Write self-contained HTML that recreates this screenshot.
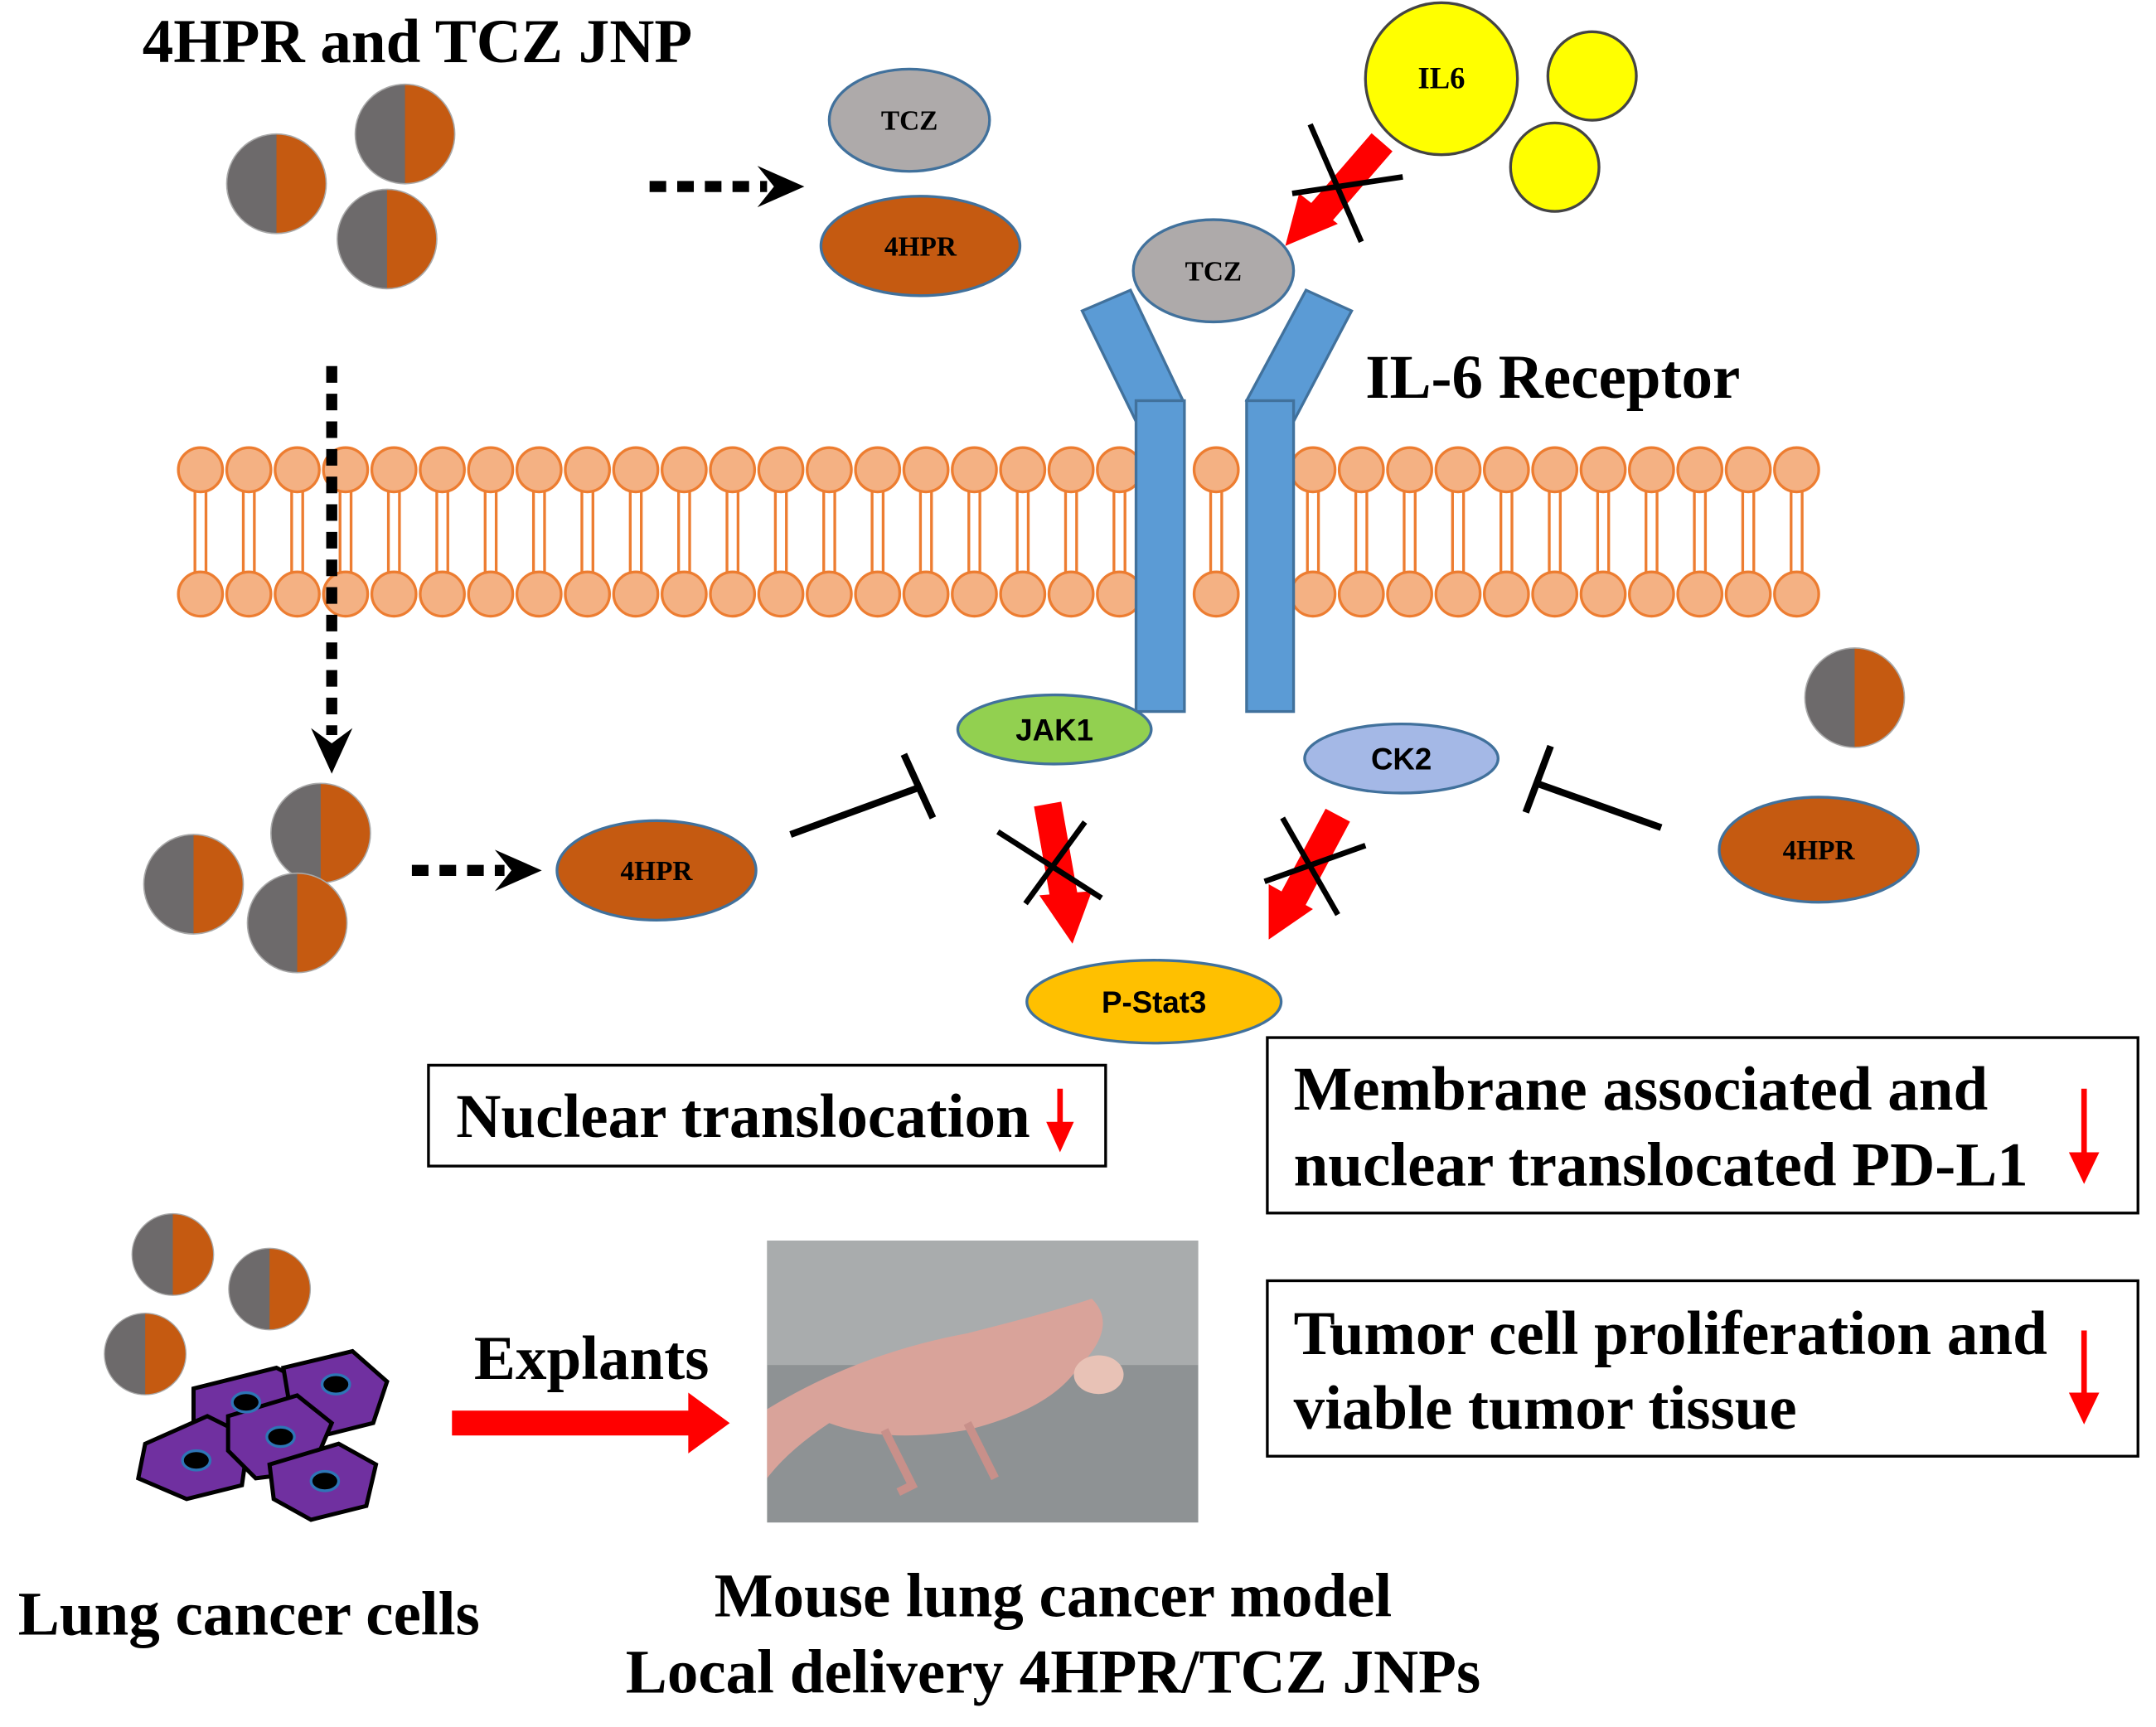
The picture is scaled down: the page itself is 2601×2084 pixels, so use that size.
<!DOCTYPE html>
<html><head><meta charset="utf-8"><style>
html,body{margin:0;padding:0;background:#fff;}
svg{display:block;}
.t{font-family:"Liberation Serif",serif;font-weight:bold;fill:#000;}
.s{font-family:"Liberation Sans",sans-serif;font-weight:bold;fill:#000;}
</style></head><body>
<svg width="2601" height="2084" viewBox="0 0 1560 1250" xmlns="http://www.w3.org/2000/svg">
<defs>
<g id="jnp"><clipPath id="cl"><rect x="-50" y="-50" width="50" height="100"/></clipPath>
<circle r="36" fill="#c55a11"/><circle r="36" fill="#6d6a6b" clip-path="url(#cl)"/><circle r="36" fill="none" stroke="#a9a9a9" stroke-width="1"/></g>
</defs>
<rect width="1560" height="1250" fill="#fff"/>
<text class="t" x="103" y="45" font-size="45">4HPR and TCZ JNP</text>
<use href="#jnp" x="293" y="97"/><use href="#jnp" x="200" y="133"/><use href="#jnp" x="280" y="173"/>
<line x1="470" y1="135" x2="555" y2="135" stroke="#000" stroke-width="8" stroke-dasharray="12,8"/>
<path d="M548,120 L582,135 L548,150 L560,135z" fill="#000"/>
<ellipse cx="658" cy="87" rx="58" ry="37" fill="#aeaaaa" stroke="#41719c" stroke-width="2"/>
<text class="t" x="658" y="94" font-size="20" text-anchor="middle">TCZ</text>
<ellipse cx="666" cy="178" rx="72" ry="36" fill="#c55a11" stroke="#41719c" stroke-width="2"/>
<text class="t" x="666" y="185" font-size="20" text-anchor="middle">4HPR</text>
<circle cx="1043" cy="57" r="55" fill="#ffff00" stroke="#444" stroke-width="2"/>
<text class="t" x="1043" y="64" font-size="22" text-anchor="middle">IL6</text>
<circle cx="1152" cy="55" r="32" fill="#ffff00" stroke="#444" stroke-width="2"/>
<circle cx="1125" cy="121" r="32" fill="#ffff00" stroke="#444" stroke-width="2"/>
<line x1="1000" y1="103" x2="955" y2="155" stroke="#f00" stroke-width="20"/>
<path d="M930,178 L940,140 L968,162z" fill="#f00"/>
<line x1="948" y1="90" x2="985" y2="175" stroke="#000" stroke-width="4"/>
<line x1="935" y1="140" x2="1015" y2="128" stroke="#000" stroke-width="4"/>
<g stroke="#ed7d31" stroke-width="2"><g id="lipids"></g></g>
<g id="mem" fill="#f4b183" stroke="#ed7d31" stroke-width="2"></g>
<g fill="#5b9bd5" stroke="#41719c" stroke-width="2">
<polygon points="783,225 818,210 856,290 822,305"/>
<rect x="822" y="290" width="35" height="225"/>
<polygon points="936,305 902,290 945,210 978,225"/>
<rect x="902" y="290" width="34" height="225"/>
</g>
<ellipse cx="878" cy="196" rx="58" ry="37" fill="#aeaaaa" stroke="#41719c" stroke-width="2"/>
<text class="t" x="878" y="203" font-size="20" text-anchor="middle">TCZ</text>
<text class="t" x="988" y="288" font-size="45">IL-6 Receptor</text>
<line x1="240" y1="265" x2="240" y2="532" stroke="#000" stroke-width="8" stroke-dasharray="12,8"/>
<path d="M225,527 L240,560 L255,527 L240,538z" fill="#000"/>
<ellipse cx="763" cy="528" rx="70" ry="25" fill="#92d050" stroke="#41719c" stroke-width="2"/>
<text class="s" x="763" y="536" font-size="22" text-anchor="middle">JAK1</text>
<ellipse cx="1014" cy="549" rx="70" ry="25" fill="#a4b8e6" stroke="#41719c" stroke-width="2"/>
<text class="s" x="1014" y="557" font-size="22" text-anchor="middle">CK2</text>
<use href="#jnp" x="232" y="603"/><use href="#jnp" x="140" y="640"/><use href="#jnp" x="215" y="668"/>
<line x1="298" y1="630" x2="365" y2="630" stroke="#000" stroke-width="8" stroke-dasharray="12,8"/>
<path d="M358,615 L392,630 L358,645 L370,630z" fill="#000"/>
<ellipse cx="475" cy="630" rx="72" ry="36" fill="#c55a11" stroke="#41719c" stroke-width="2"/>
<text class="t" x="475" y="637" font-size="20" text-anchor="middle">4HPR</text>
<line x1="572" y1="604" x2="665" y2="570" stroke="#000" stroke-width="5"/>
<line x1="654" y1="546" x2="675" y2="592" stroke="#000" stroke-width="5"/>
<line x1="758" y1="582" x2="770" y2="650" stroke="#f00" stroke-width="20"/>
<path d="M752,648 L790,645 L776,683z" fill="#f00"/>
<line x1="722" y1="602" x2="797" y2="650" stroke="#000" stroke-width="4"/>
<line x1="742" y1="654" x2="785" y2="595" stroke="#000" stroke-width="4"/>
<line x1="968" y1="590" x2="935" y2="652" stroke="#f00" stroke-width="20"/>
<path d="M918,640 L950,658 L918,680z" fill="#f00"/>
<line x1="928" y1="592" x2="968" y2="662" stroke="#000" stroke-width="4"/>
<line x1="915" y1="638" x2="988" y2="612" stroke="#000" stroke-width="4"/>
<ellipse cx="835" cy="725" rx="92" ry="30" fill="#ffc000" stroke="#41719c" stroke-width="2"/>
<text class="s" x="835" y="733" font-size="22" text-anchor="middle">P-Stat3</text>
<line x1="1202" y1="599" x2="1112" y2="567" stroke="#000" stroke-width="5"/>
<line x1="1122" y1="540" x2="1104" y2="588" stroke="#000" stroke-width="5"/>
<use href="#jnp" x="1342" y="505"/>
<ellipse cx="1316" cy="615" rx="72" ry="38" fill="#c55a11" stroke="#41719c" stroke-width="2"/>
<text class="t" x="1316" y="622" font-size="20" text-anchor="middle">4HPR</text>
<rect x="310" y="771" width="490" height="73" fill="#fff" stroke="#000" stroke-width="2"/>
<text class="t" x="330" y="823" font-size="45">Nuclear translocation</text>
<line x1="767" y1="788" x2="767" y2="815" stroke="#f00" stroke-width="4"/>
<path d="M757,812 L767,834 L777,812z" fill="#f00"/>
<rect x="917" y="751" width="630" height="127" fill="#fff" stroke="#000" stroke-width="2"/>
<text class="t" x="936" y="803" font-size="45">Membrane associated and</text>
<text class="t" x="936" y="858" font-size="45">nuclear translocated PD-L1</text>
<line x1="1508" y1="788" x2="1508" y2="838" stroke="#f00" stroke-width="4"/>
<path d="M1497,834 L1508,857 L1519,834z" fill="#f00"/>
<rect x="917" y="927" width="630" height="127" fill="#fff" stroke="#000" stroke-width="2"/>
<text class="t" x="936" y="980" font-size="45">Tumor cell proliferation and</text>
<text class="t" x="936" y="1034" font-size="45">viable tumor tissue</text>
<line x1="1508" y1="963" x2="1508" y2="1012" stroke="#f00" stroke-width="4"/>
<path d="M1497,1008 L1508,1031 L1519,1008z" fill="#f00"/>
<g transform="translate(125,908) scale(0.82)"><use href="#jnp"/></g>
<g transform="translate(195,933) scale(0.82)"><use href="#jnp"/></g>
<g transform="translate(105,980) scale(0.82)"><use href="#jnp"/></g>
<g fill="#7030a0" stroke="#000" stroke-width="3">
<path d="M140,1005 L200,990 L220,1000 L205,1030 L165,1040 L140,1030z"/>
<path d="M205,990 L255,978 L280,1000 L270,1030 L230,1040 L210,1020z"/>
<path d="M105,1045 L150,1025 L180,1040 L175,1075 L135,1085 L100,1070z"/>
<path d="M165,1025 L215,1010 L240,1030 L225,1065 L185,1070 L165,1050z"/>
<path d="M195,1060 L245,1045 L272,1060 L265,1090 L225,1100 L198,1085z"/>
</g>
<g fill="#000" stroke="#2e75b6" stroke-width="2">
<ellipse cx="178" cy="1015" rx="10" ry="7"/><ellipse cx="243" cy="1002" rx="10" ry="7"/>
<ellipse cx="142" cy="1057" rx="10" ry="7"/><ellipse cx="203" cy="1040" rx="10" ry="7"/>
<ellipse cx="235" cy="1072" rx="10" ry="7"/>
</g>
<text class="t" x="343" y="998" font-size="45">Explants</text>
<rect x="327" y="1021" width="175" height="18" fill="#f00"/>
<path d="M498,1008 L528,1030 L498,1052z" fill="#f00"/>
<rect x="555" y="898" width="312" height="204" fill="#8e9294"/>
<rect x="555" y="898" width="312" height="90" fill="#a9acad"/>
<path d="M555,1020 Q620,980 700,965 Q760,950 790,940 Q810,960 780,990 Q760,1020 700,1035 Q640,1045 600,1030 Q570,1050 555,1070z" fill="#d9a39a"/>
<path d="M640,1035 L660,1075 L650,1080 M700,1030 L720,1070" stroke="#c8908a" stroke-width="6" fill="none"/>
<ellipse cx="795" cy="995" rx="18" ry="14" fill="#e8c2b6"/>
<text class="t" x="13" y="1183" font-size="45">Lung cancer cells</text>
<text class="t" x="762" y="1170" font-size="45" text-anchor="middle">Mouse lung cancer model</text>
<text class="t" x="762" y="1225" font-size="45" text-anchor="middle">Local delivery 4HPR/TCZ JNPs</text>
<script>
(function(){
var ns="http://www.w3.org/2000/svg",mem=document.getElementById("mem"),lip=document.getElementById("lipids");
for(var i=0;i<34;i++){var x=145+i*35;
 if(x>820&&x<860)continue; if(x>900&&x<938)continue;
 [x-4,x+4].forEach(function(lx){var l=document.createElementNS(ns,"line");l.setAttribute("x1",lx);l.setAttribute("x2",lx);l.setAttribute("y1",352);l.setAttribute("y2",418);lip.appendChild(l);});
 [340,430].forEach(function(y){var c=document.createElementNS(ns,"circle");c.setAttribute("cx",x);c.setAttribute("cy",y);c.setAttribute("r",16);mem.appendChild(c);});
}
})();
</script>
</svg>
</body></html>
